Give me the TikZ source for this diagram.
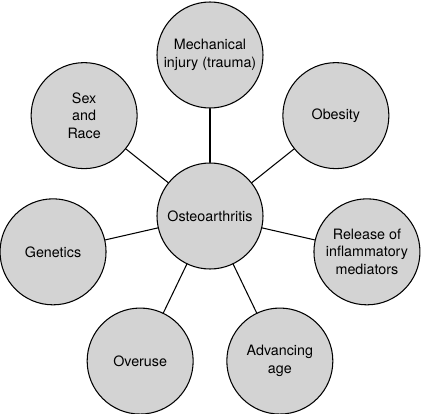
\documentclass[tikz,border=0pt]{standalone}
\usepackage{fontspec}
\setmainfont{TeX Gyre Heros}
\usepackage{tikz}
\usetikzlibrary{positioning, calc}
\definecolor{bubblegray}{RGB}{211,211,211}

\tikzset{
  factor/.style={circle, draw=black, line width=0.9pt, fill=bubblegray,
    minimum size=106*0.03cm, inner sep=0pt, align=center,
    font=\fontsize{12.2}{15}\selectfont},
  link/.style={line width=0.9pt}
}

\begin{document}
\begin{tikzpicture}[x=0.03cm, y=0.03cm, line cap=round, line join=round]
\useasboundingbox (-210,-197) rectangle (211,216);

% --- Cerchio centrale ---
\node[factor] (hub) at (0,0) {Osteoarthritis};

% --- Fattori di rischio (eptagono regolare) ---
\node[factor] (trauma)    at (90:161)      {Mechanical\\injury (trauma)};
\node[factor] (obesity)   at (38.57:161)   {Obesity};
\node[factor] (mediators) at (-12.86:161)  {Release of\\inflammatory\\mediators};
\node[factor] (age)       at (-64.29:161)  {Advancing\\age};
\node[factor] (overuse)   at (-115.71:161) {Overuse};
\node[factor] (genetics)  at (-167.14:161) {Genetics};
\node[factor] (sexrace)   at (141.43:161)  {Sex\\and\\Race};

% --- Collegamenti ---
\foreach \f in {trauma,obesity,mediators,age,overuse,genetics,sexrace}
  \draw[link] (hub) -- (\f);
\end{tikzpicture}
\end{document}
